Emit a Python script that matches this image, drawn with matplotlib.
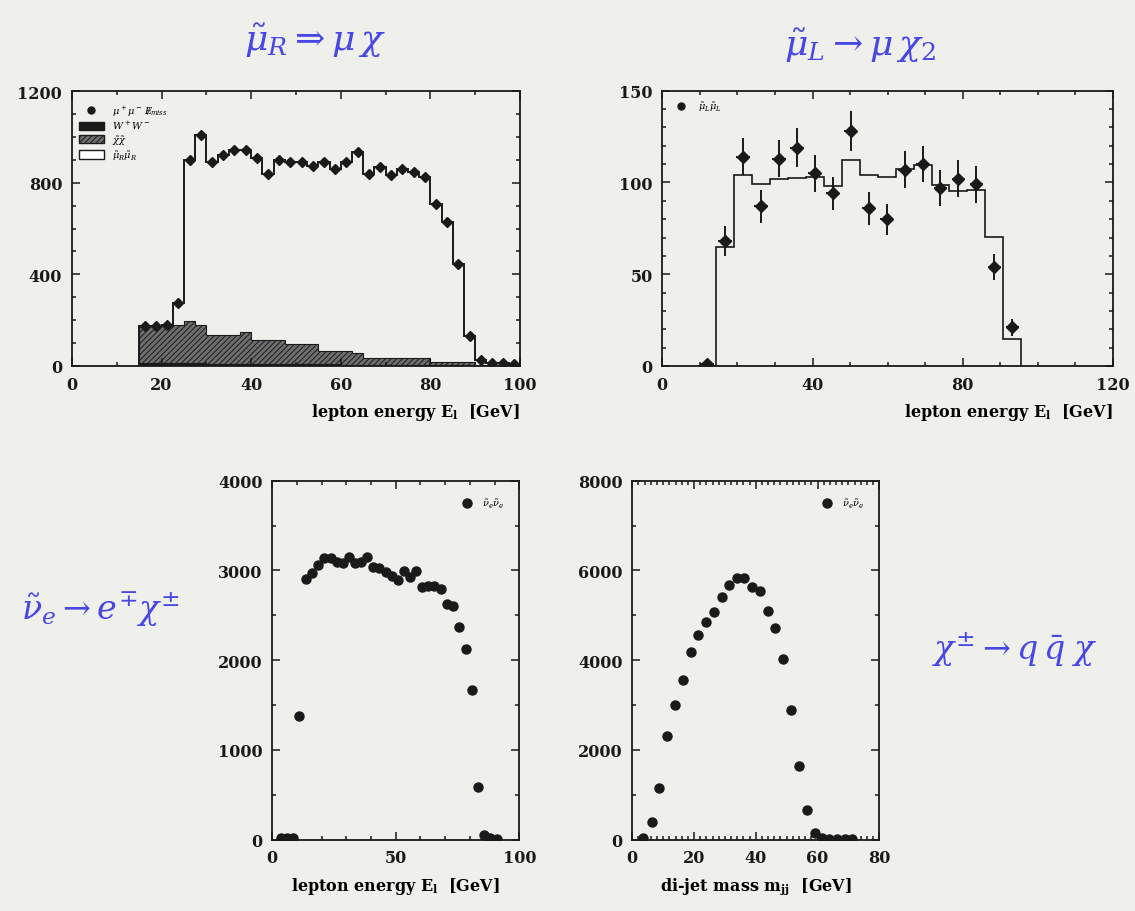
import numpy as np
import matplotlib
matplotlib.use('Agg')
import matplotlib.pyplot as plt
from matplotlib.patches import Patch
from matplotlib.lines import Line2D
from matplotlib.ticker import MultipleLocator

plt.rcParams['font.family'] = 'DejaVu Serif'
plt.rcParams['font.weight'] = 'bold'
plt.rcParams['mathtext.fontset'] = 'custom'
plt.rcParams['mathtext.it'] = 'DejaVu Serif:italic:normal'
plt.rcParams['mathtext.rm'] = 'DejaVu Serif:normal'
plt.rcParams['mathtext.bf'] = 'DejaVu Serif:bold'
plt.rcParams['hatch.linewidth'] = 0.7

paper = '#efefeb'
ink = '#1a1a1a'
pen = '#4747e6'

# smuon_R -> mu chi : lepton energy, 2.5 GeV bins from 15 to 100
mur_edges = np.arange(15, 100.1, 2.5)
mur_total = [175, 175, 177, 276, 897, 1007, 890, 922, 944, 944, 908, 839, 897, 890, 890, 873, 890,
             858, 890, 934, 839, 868, 832, 858, 846, 825, 708, 628, 447, 129, 28, 15, 13, 10]
mur_ww = [12, 12, 12, 12, 11, 11, 10, 10, 10, 9, 9, 9, 8, 8, 8, 7, 7,
          7, 6, 6, 6, 5, 5, 5, 4, 4, 4, 3, 3, 3, 2, 2, 2, 2]
mur_chichi = [163, 163, 163, 168, 185, 169, 127, 127, 127, 139, 103, 103, 104, 87, 87, 88, 57,
              57, 58, 52, 29, 30, 30, 30, 31, 31, 13, 14, 14, 14, 3, 3, 1, 1]

# smuon_L -> mu chi_2 : lepton energy
mul_edges = np.linspace(9.5, 95.6, 19)
mul_mc = [0, 64.8, 103.8, 99.2, 101.6, 102.5, 102.9, 97.8, 112.3, 104.3, 102.9, 107.4, 109.6,
          98.7, 95.6, 96.0, 70.2, 14.5]
mul_data = [1, 68, 114, 87, 113, 119, 105, 94, 128, 86, 80, 107, 110, 97, 102, 99, 54, 21]
mul_err = [0, 8, 10, 9, 10, 10.5, 10, 9, 11, 9, 8.5, 10, 10, 10, 10, 10, 7, 4.5]

# sneutrino -> e chi : lepton energy
snu_lep_x = [3.4, 5.9, 8.4, 10.9, 13.6, 16.2, 18.6, 21.1, 23.6, 26.1, 28.5, 31.0, 33.5, 35.9, 38.5,
             40.9, 43.3, 45.9, 48.3, 50.8, 53.3, 55.8, 58.2, 60.8, 63.2, 65.6, 68.2, 70.6, 73.0,
             75.7, 78.3, 81.0, 83.4, 85.9, 88.2, 90.9]
snu_lep_y = [15, 15, 20, 1382, 2904, 2971, 3064, 3135, 3135, 3097, 3079, 3146, 3079, 3097, 3150,
             3034, 3027, 2979, 2934, 2893, 2997, 2923, 2997, 2811, 2823, 2823, 2793, 2626, 2607,
             2366, 2124, 1671, 583, 52, 15, 7]

# chargino -> q qbar chi : di-jet mass
snu_jj_x = [3.6, 6.3, 8.7, 11.3, 13.9, 16.3, 18.9, 21.4, 23.9, 26.5, 28.9, 31.4, 33.8, 36.3, 38.8,
            41.4, 43.8, 46.3, 48.9, 51.5, 54.0, 56.7, 59.2, 61.3, 63.8, 66.3, 68.8, 71.3]
snu_jj_y = [30, 386, 1144, 2303, 3008, 3565, 4175, 4561, 4858, 5081, 5400, 5675, 5824, 5824, 5623,
            5549, 5103, 4717, 4026, 2897, 1649, 669, 149, 40, 20, 15, 15, 10]

lep_label = r'lepton energy E$_\mathbf{l}$  [GeV]'
jj_label = r'di-jet mass m$_\mathbf{jj}$  [GeV]'


def style(ax, xmaj, xmin, ymaj, ymin):
    ax.set_facecolor(paper)
    ax.xaxis.set_major_locator(MultipleLocator(xmaj))
    ax.xaxis.set_minor_locator(MultipleLocator(xmin))
    ax.yaxis.set_major_locator(MultipleLocator(ymaj))
    ax.yaxis.set_minor_locator(MultipleLocator(ymin))
    ax.tick_params(which='both', direction='in', top=True, right=True, colors=ink,
                   labelsize=11.5, width=1.1)
    ax.tick_params(which='major', length=6, pad=7)
    ax.tick_params(which='minor', length=3)
    for s in ax.spines.values():
        s.set_linewidth(1.3)
        s.set_color(ink)


fig = plt.figure(figsize=(11.35, 9.12), dpi=100)
fig.patch.set_facecolor(paper)

# top left
ax1 = fig.add_axes([0.0634, 0.5976, 0.3947, 0.3015])
ax1.stairs(mur_ww, mur_edges, fill=True, color=ink)
ax1.stairs(np.add(mur_ww, mur_chichi), mur_edges, baseline=mur_ww, fill=True,
           facecolor='#6e6e6e', edgecolor=ink, hatch='//////', lw=0.8)
ax1.stairs(mur_total, mur_edges, color=ink, lw=1.4)
ax1.plot((mur_edges[:-1] + mur_edges[1:]) / 2, mur_total, 'D', ms=5, color=ink)
ax1.set_xlim(0, 100)
ax1.set_ylim(0, 1200)
style(ax1, 20, 10, 400, 100)
ax1.set_xlabel(lep_label, fontsize=11.5, fontweight='bold', loc='right', labelpad=6)
h1 = [Line2D([], [], marker='o', ls='', color=ink, ms=5),
      Patch(facecolor=ink, edgecolor=ink),
      Patch(facecolor='#6e6e6e', edgecolor=ink, hatch='//////'),
      Patch(facecolor='white', edgecolor=ink)]
l1 = [r'$\mu^+\mu^-\,E\!\!\!/_{miss}$', r'$W^+W^-$', r'$\tilde{\chi}\tilde{\chi}$',
      r'$\tilde{\mu}_R\tilde{\mu}_R$']
ax1.legend(h1, l1, loc='upper left', bbox_to_anchor=(0.0, 0.98), frameon=False, fontsize=7,
           handlelength=2.6, handleheight=0.9, labelspacing=0.15, borderaxespad=0.3)

# top right
ax2 = fig.add_axes([0.5835, 0.5976, 0.3971, 0.3019])
ax2.stairs(mul_mc, mul_edges, color=ink, lw=1.2)
ax2.errorbar((mul_edges[:-1] + mul_edges[1:]) / 2, mul_data, yerr=mul_err, xerr=1.8,
             fmt='D', ms=6, color=ink, elinewidth=1.4, capsize=0)
ax2.set_xlim(0, 120)
ax2.set_ylim(0, 150)
style(ax2, 40, 10, 50, 10)
ax2.set_xlabel(lep_label, fontsize=11.5, fontweight='bold', loc='right', labelpad=6)
ax2.legend([Line2D([], [], marker='o', ls='', color=ink, ms=5)],
           [r'$\tilde{\mu}_L\tilde{\mu}_L$'], loc='upper left', frameon=False, fontsize=7,
           handlelength=2.0, borderaxespad=0.5)

# bottom left
ax3 = fig.add_axes([0.2399, 0.0782, 0.2176, 0.3936])
ax3.plot(snu_lep_x, snu_lep_y, 'o', ms=6.5, color=ink)
ax3.set_xlim(0, 100)
ax3.set_ylim(0, 4000)
style(ax3, 50, 10, 1000, 500)
ax3.set_xlabel(lep_label, fontsize=11.5, fontweight='bold', labelpad=6)
ax3.legend([Line2D([], [], marker='o', ls='', color=ink, ms=6.5)],
           [r'$\tilde{\nu}_e\tilde{\nu}_e$'], loc='upper right', frameon=False, fontsize=7,
           handlelength=1.5, borderaxespad=1.2)

# bottom right
ax4 = fig.add_axes([0.5571, 0.0782, 0.2176, 0.3936])
ax4.plot(snu_jj_x, snu_jj_y, 'o', ms=6.5, color=ink)
ax4.set_xlim(0, 80)
ax4.set_ylim(0, 8000)
style(ax4, 20, 2, 2000, 1000)
ax4.set_xlabel(jj_label, fontsize=11.5, fontweight='bold', labelpad=6)
ax4.legend([Line2D([], [], marker='o', ls='', color=ink, ms=6.5)],
           [r'$\tilde{\nu}_e\tilde{\nu}_e$'], loc='upper right', frameon=False, fontsize=7,
           handlelength=1.5, borderaxespad=1.2)

# handwritten notes
fig.text(0.278, 0.955, r'$\tilde{\mu}_R \Rightarrow \mu\,\chi$', color=pen, fontsize=26,
         ha='center', va='center')
fig.text(0.758, 0.950, r'$\tilde{\mu}_L \rightarrow \mu\,\chi_2$', color=pen, fontsize=26,
         ha='center', va='center')
fig.text(0.088, 0.331, r'$\tilde{\nu}_e \rightarrow e^{\mp}\chi^{\pm}$', color=pen, fontsize=24,
         ha='center', va='center')
fig.text(0.894, 0.287, r'$\chi^{\pm} \rightarrow q\,\bar{q}\;\chi$', color=pen, fontsize=24,
         ha='center', va='center')

fig.savefig('out.png', dpi=100, facecolor=paper)
